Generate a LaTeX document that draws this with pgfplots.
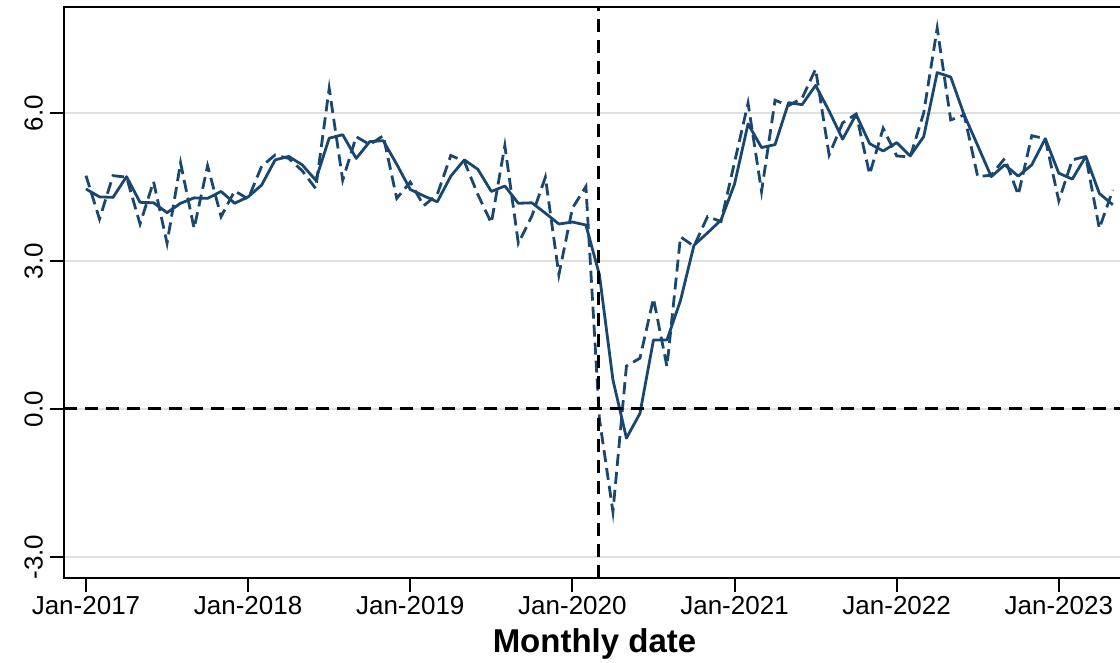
\documentclass[border=0pt]{standalone}
\usepackage{pgfplots}
\pgfplotsset{compat=1.18}
\usepackage{fontspec}
\setmainfont{Liberation Sans}
\definecolor{navy}{RGB}{26,71,111}
\begin{document}
\begin{tikzpicture}
\begin{axis}[
  scale only axis, width=530.5pt, height=285.5pt,
  xmin=-1.628, xmax=76.9, ymin=-3.426, ymax=8.149,
  axis line style={line width=1pt},
  xtick={0,12,24,36,48,60,72},
  xticklabels={Jan-2017,Jan-2018,Jan-2019,Jan-2020,Jan-2021,Jan-2022,Jan-2023},
  ytick={-3,0,3,6},
  yticklabels={-3.0,0.0,3.0,6.0},
  yticklabel style={rotate=90, anchor=south},
  xticklabel style={yshift=1.5pt},
  tick align=outside, major tick length=7pt,
  tick style={black, line width=1pt},
  xtick pos=bottom, ytick pos=left,
  ymajorgrids, grid style={black!12, line width=1.3pt},
  xlabel={Monthly date},
  xlabel style={font=\fontsize{16.5}{18}\selectfont\bfseries, yshift=0pt},
  ticklabel style={font=\fontsize{13}{15}\selectfont},
]
\addplot[navy, line width=1.4pt, line join=round] coordinates {
(0,4.46)(1,4.30)(2,4.29)(3,4.71)(4,4.19)(5,4.18)(6,3.98)(7,4.17)(8,4.28)(9,4.27)
(10,4.41)(11,4.17)(12,4.30)(13,4.54)(14,5.05)(15,5.12)(16,4.95)(17,4.64)(18,5.49)(19,5.56)
(20,5.08)(21,5.42)(22,5.44)(23,4.96)(24,4.45)(25,4.32)(26,4.20)(27,4.72)(28,5.05)(29,4.86)
(30,4.41)(31,4.52)(32,4.17)(33,4.18)(34,3.97)(35,3.75)(36,3.79)(37,3.73)(38,2.72)(39,0.59)
(40,-0.59)(41,-0.09)(42,1.40)(43,1.40)(44,2.20)(45,3.32)(46,3.57)(47,3.83)(48,4.56)(49,5.78)
(50,5.30)(51,5.36)(52,6.21)(53,6.17)(54,6.56)(55,6.04)(56,5.47)(57,5.97)(58,5.38)(59,5.23)
(60,5.40)(61,5.13)(62,5.52)(63,6.82)(64,6.73)(65,5.96)(66,5.34)(67,4.71)(68,4.95)(69,4.72)
(70,4.95)(71,5.48)(72,4.78)(73,4.66)(74,5.12)(75,4.37)(76,4.14)
};
\addplot[navy, line width=1.4pt, dash pattern=on 6pt off 3pt] coordinates {
(0,4.73)(1,3.85)(2,4.73)(3,4.70)(4,3.75)(5,4.61)(6,3.36)(7,4.99)(8,3.66)(9,4.93)
(10,3.90)(11,4.42)(12,4.26)(13,4.92)(14,5.15)(15,5.08)(16,4.83)(17,4.47)(18,6.50)(19,4.64)
(20,5.52)(21,5.36)(22,5.54)(23,4.27)(24,4.60)(25,4.12)(26,4.35)(27,5.14)(28,5.02)(29,4.35)
(30,3.77)(31,5.34)(32,3.36)(33,3.91)(34,4.70)(35,2.72)(36,4.07)(37,4.51)(38,-0.20)(39,-2.08)
(40,0.87)(41,1.03)(42,2.24)(43,0.86)(44,3.49)(45,3.30)(46,3.90)(47,3.80)(48,5.00)(49,6.20)
(50,4.41)(51,6.26)(52,6.15)(53,6.30)(54,6.89)(55,5.15)(56,5.80)(57,5.98)(58,4.76)(59,5.69)
(60,5.13)(61,5.11)(62,6.00)(63,7.72)(64,5.86)(65,5.96)(66,4.71)(67,4.74)(68,5.08)(69,4.34)
(70,5.54)(71,5.48)(72,4.22)(73,5.05)(74,5.12)(75,3.66)(76,4.44)
};
\addplot[black, line width=1.5pt, dash pattern=on 6.5pt off 4pt] coordinates {(-1.628,0)(76.9,0)};
\addplot[black, line width=1.5pt, dash pattern=on 6.5pt off 4pt] coordinates {(37.9,-3.426)(37.9,8.149)};
\end{axis}
\pgfresetboundingbox
\path (-32pt,-42.5pt) rectangle (528pt,289pt);
\end{tikzpicture}
\end{document}
